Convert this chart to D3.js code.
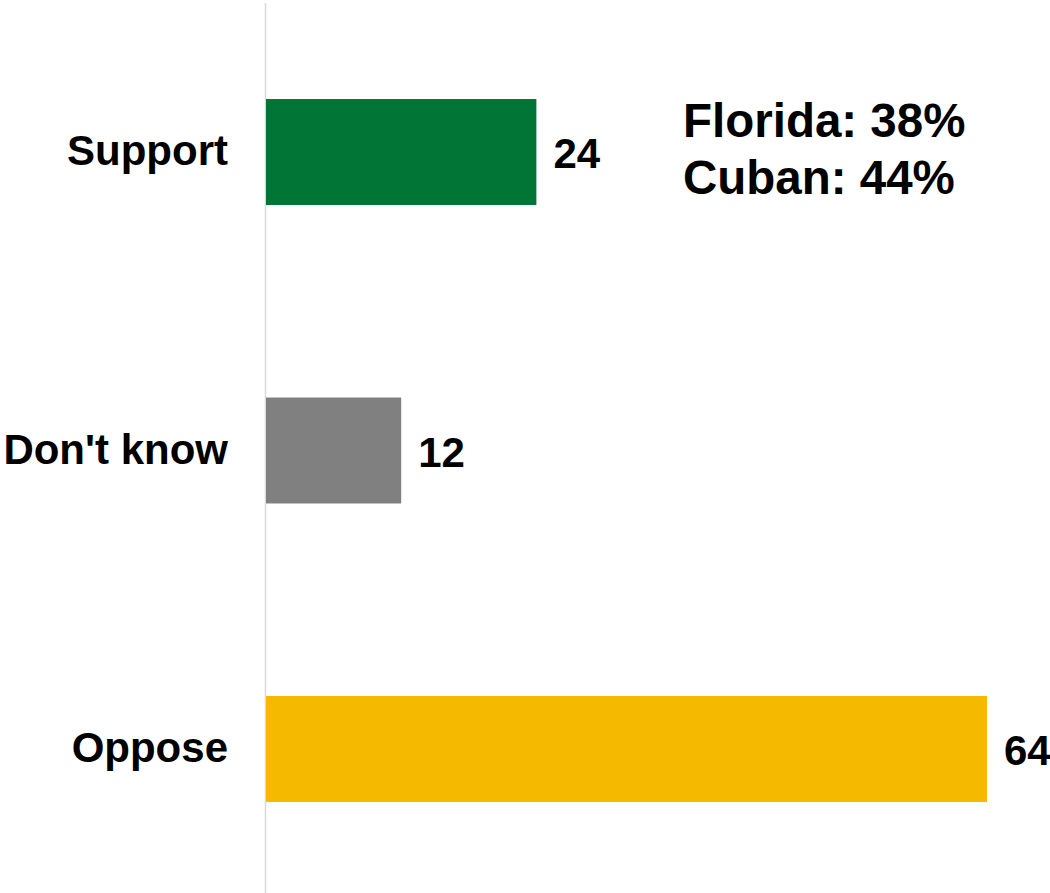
<!DOCTYPE html>
<html><head><meta charset="utf-8">
<script src="https://cdn.jsdelivr.net/npm/d3@7"></script>
<style>html,body{margin:0;padding:0;background:#fff;}svg{display:block;}</style>
</head><body>
<script>
const categories = ["Support", "Don't know", "Oppose"];
const values = [24, 12, 64];
const colors = ["#007536", "#808080", "#F5B900"];
const annotationLines = ["Florida: 38%", "Cuban: 44%"];

const W = 1050, H = 893;
const svg = d3.select("body").append("svg").attr("width", W).attr("height", H);
const font = "'Liberation Sans', Arial, Helvetica, sans-serif";

const x = d3.scaleLinear().domain([0, 64]).range([266, 987]);
const y = d3.scaleBand().domain(categories).range([5, 896]).paddingInner(0.645).paddingOuter(0.315);

// axis line
svg.append("line").attr("x1", 265.5).attr("x2", 265.5).attr("y1", 3).attr("y2", H)
  .attr("stroke", "#d9d9d9").attr("stroke-width", 1.5);

svg.selectAll("rect.bar").data(categories).join("rect").attr("class", "bar")
  .attr("x", x(0)).attr("y", d => y(d))
  .attr("width", (d, i) => x(values[i]) - x(0))
  .attr("height", y.bandwidth())
  .attr("fill", (d, i) => colors[i]);

svg.selectAll("text.val").data(categories).join("text").attr("class", "val")
  .attr("x", (d, i) => x(values[i]) + 17)
  .attr("y", d => y(d) + y.bandwidth() / 2 + 16)
  .attr("font-family", font).attr("font-weight", "bold").attr("font-size", 42)
  .attr("fill", "#000").text((d, i) => values[i]);

svg.selectAll("text.cat").data(categories).join("text").attr("class", "cat")
  .attr("x", 228).attr("text-anchor", "end")
  .attr("y", d => y(d) + y.bandwidth() / 2 + 13)
  .attr("font-family", font).attr("font-weight", "bold").attr("font-size", 42)
  .attr("fill", "#000").text(d => d);

svg.selectAll("text.ann").data(annotationLines).join("text").attr("class", "ann")
  .attr("x", 683).attr("y", (d, i) => 137 + i * 57)
  .attr("font-family", font).attr("font-weight", "bold").attr("font-size", 47.5)
  .attr("fill", "#000").text(d => d);
</script>
</body></html>
